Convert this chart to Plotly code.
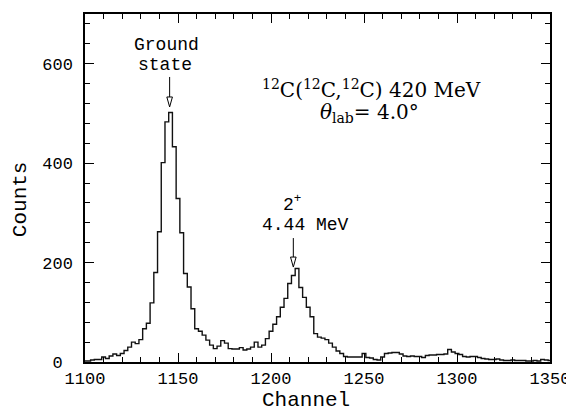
import plotly.graph_objects as go

# Histogram bin centres (2-channel bins) and counts
channels = list(range(1100, 1352, 2))
counts = [
    2, 2, 4, 5, 5, 10, 7, 12, 16, 13,          # 1100-1118
    17, 23, 30, 40, 37, 45, 67, 78, 119, 180,  # 1120-1138
    262, 401, 483, 502, 433, 329, 260, 178, 151, 107,  # 1140-1158
    67, 62, 54, 44, 34, 27, 32, 43, 38, 27,    # 1160-1178
    26, 26, 29, 24, 26, 30, 40, 30, 34, 47,    # 1180-1198
    62, 76, 91, 110, 128, 158, 174, 188, 150, 130,  # 1200-1218
    110, 91, 57, 50, 48, 45, 38, 30, 22, 17,   # 1220-1238
    11, 10, 10, 10, 10, 17, 9, 8, 5, 4,        # 1240-1258
    10, 17, 18, 19, 19, 16, 12, 11, 12, 11,    # 1260-1278
    11, 9, 13, 14, 14, 15, 15, 16, 25, 20,     # 1280-1298
    17, 15, 11, 10, 11, 11, 9, 7, 6, 5,        # 1300-1318
    5, 6, 4, 3, 3, 4, 3, 3, 3, 2,              # 1320-1338
    2, 3, 2, 5, 4, 3,                          # 1340-1350
]
assert len(channels) == len(counts)

x_ticks = [1100, 1150, 1200, 1250, 1300, 1350]
x_labels = ["1100", "1150", "1200", "1250", "1300", "1350"]
y_ticks = [0, 200, 400, 600]
# the "0" label sits a little to the left in the original (clear of "1100")
y_labels = ["0\u00a0", "200", "400", "600"]

# Arrow targets (channel, counts at tip)
gs_arrow = (1145.5, 513)
ex_arrow = (1212.0, 191)

MONO = "Liberation Mono"
SERIF = "DejaVu Serif"

fig = go.Figure()
fig.add_trace(go.Scatter(
    x=channels, y=counts, mode="lines", line_shape="hvh",
    line=dict(color="#111111", width=1.4), hoverinfo="skip", showlegend=False,
))

shapes = []
for (ax_, ay_), stem in ((gs_arrow, 30), (ex_arrow, 29)):
    shapes.append(dict(type="line", xref="x", yref="y", xsizemode="pixel", ysizemode="pixel",
                       xanchor=ax_, yanchor=ay_, x0=0, x1=0, y0=10, y1=stem,
                       line=dict(color="black", width=1)))
    shapes.append(dict(type="path", xref="x", yref="y", xsizemode="pixel", ysizemode="pixel",
                       xanchor=ax_, yanchor=ay_, path="M -2.8,10 L 0,0 L 2.8,10 Z",
                       line=dict(color="black", width=1), fillcolor="white"))

def ann(text, x, y, size, family, **kw):
    d = dict(text=text, x=x, y=y, xref="paper", yref="paper", showarrow=False,
             font=dict(family=family, size=size, color="black"),
             xanchor="center", yanchor="middle")
    d.update(kw)
    return d

annotations = [
    ann("Ground", 0.176, 0.910, 18, MONO),
    ann("state", 0.173, 0.853, 18, MONO),
    ann("<sup>12</sup>C(<sup>12</sup>C,<sup>12</sup>C) 420 MeV", 0.616, 0.785, 20, SERIF),
    ann("<i>θ</i><sub>lab</sub>= 4.0°", 0.612, 0.715, 20, SERIF),
    ann("2<sup>+</sup>", 0.445, 0.455, 18, MONO),
    ann("4.44 MeV", 0.474, 0.394, 18, MONO),
    ann("Counts", -0.139, 0.469, 21, MONO, textangle=-90),
    ann("Channel", 0.475, -0.11, 21, MONO),
]

axis_common = dict(
    showline=True, linecolor="black", linewidth=1.5, mirror="allticks",
    ticks="inside", ticklen=9, tickwidth=1.2, tickcolor="black",
    showgrid=False, zeroline=False, ticklabeloverflow="allow",
    tickfont=dict(family=MONO, size=17, color="black"),
)

# The page body has an 8 px default margin, so the figure is shrunk by 8 px
# and the left/top margins reduced by 8 px to keep the plot area in place.
fig.update_layout(
    width=566, height=405,
    margin=dict(l=77, r=21, t=4, b=51),
    paper_bgcolor="white", plot_bgcolor="white",
    xaxis=dict(range=[1100, 1350], tickvals=x_ticks, ticktext=x_labels,
               minor=dict(ticks="inside", dtick=10, ticklen=5, tickwidth=1, tickcolor="black"),
               ticklabelstandoff=0, **axis_common),
    yaxis=dict(range=[0, 700], tickvals=y_ticks, ticktext=y_labels,
               minor=dict(ticks="inside", dtick=40, ticklen=5, tickwidth=1, tickcolor="black"),
               ticklabelstandoff=7, **axis_common),
    shapes=shapes, annotations=annotations,
)

fig.write_html("out.html")
